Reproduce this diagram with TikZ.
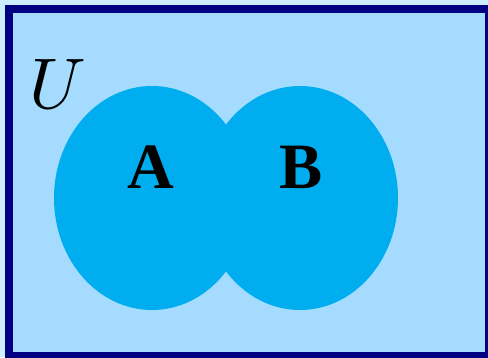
\documentclass[tikz,border=0pt]{standalone}
\usepackage{fontspec}
\usepackage{tikz}
\usetikzlibrary{positioning}
\newfontfamily\setfont{Liberation Serif}
\definecolor{pageblue}{RGB}{204, 236, 255}
\definecolor{universeblue}{RGB}{164, 219, 255}
\definecolor{setcyan}{RGB}{0, 174, 239}
\definecolor{framenavy}{RGB}{0, 0, 128}
\tikzstyle{setlabel} = [inner sep=0pt, font=\fontsize{46}{46}\selectfont\setfont\bfseries]
\tikzstyle{unilabel} = [inner sep=0pt, font=\fontsize{10}{12}\selectfont, scale=5.1]

\begin{document}
\begin{tikzpicture}[x=0.025cm, y=-0.025cm]
    \useasboundingbox (0,0) rectangle (488,357);
    \fill[pageblue] (0,0) rectangle (488,357);
    \clip (0,0) rectangle (488,357);

    % Universe
    \draw[framenavy, fill=universeblue, line width=0.2cm] (9,9) rectangle (489,356);
    \node[unilabel] (universe) at (58,84) {$U$};

    % Sets A and B
    \fill[setcyan] (152,198) ellipse [x radius=98, y radius=112];
    \fill[setcyan] (300,198) ellipse [x radius=98, y radius=112];
    \node[setlabel] (labelA) at (151,167) {A};
    \node[setlabel] (labelB) at (301,167) {B};
\end{tikzpicture}
\end{document}
